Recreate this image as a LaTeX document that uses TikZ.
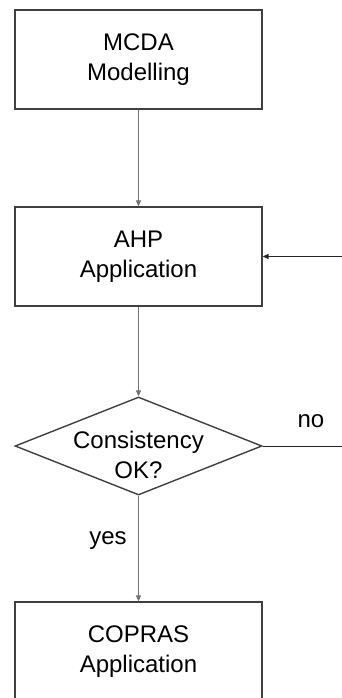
\documentclass[tikz,border=0pt]{standalone}
\usepackage{fontspec}
\setmainfont{Liberation Sans}
\usetikzlibrary{shapes.geometric,arrows.meta}
\begin{document}
\begin{tikzpicture}[x=0.5pt,y=-0.5pt,
  box/.style={rectangle, draw=black!75, line width=0.7pt, minimum width=123.5pt, minimum height=49.5pt, align=center, font=\fontsize{12}{15}\selectfont},
  decision/.style={diamond, draw=black!75, line width=0.7pt, minimum width=123.5pt, minimum height=49pt, inner sep=0pt},
  flow/.style={draw=black!55, line width=0.5pt, -{Triangle[length=3pt,width=2.6pt]}},
  back/.style={draw=black!85, line width=0.5pt},
  lbl/.style={font=\fontsize{12}{15}\selectfont}]
\useasboundingbox (0,0) rectangle (342,698);
\clip (0,0) rectangle (342,698);
\node[box] (model) at (138.5,59.5) {MCDA\\Modelling};
\node[box] (ahp) at (138.5,256.5) {AHP\\Application};
\node[decision] (check) at (138.5,446) {};
\node[lbl, align=center] (checktxt) at (138.5,455) {Consistency\\OK?};
\node[box] (copras) at (138.5,651.5) {COPRAS\\Application};
\coordinate (loopin) at (342,256.5);
\coordinate (loopout) at (342,446);
\draw[flow] (model) -- (ahp);
\draw[flow] (ahp) -- (check);
\draw[flow] (check) -- (copras);
\draw[back] (check.east) -- (loopout);
\draw[back, -{Triangle[length=3pt,width=2.6pt]}] (loopin) -- (ahp.east);
\node[lbl] (no) at (311,421) {no};
\node[lbl] (yes) at (108,541) {yes};
\end{tikzpicture}
\end{document}
